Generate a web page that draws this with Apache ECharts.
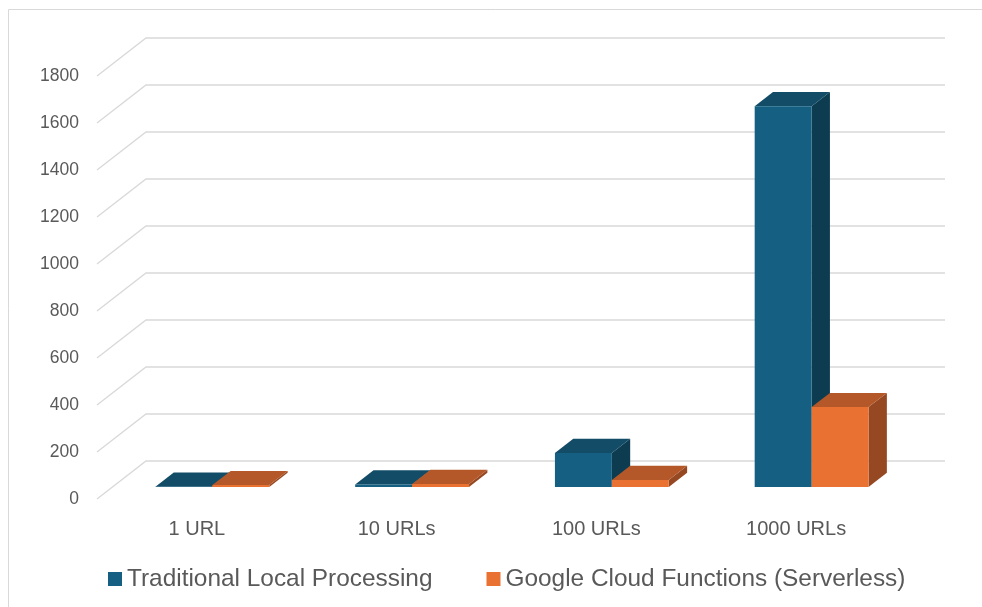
<!DOCTYPE html>
<html>
<head>
<meta charset="utf-8">
<title>Processing time by workload</title>
<script src="https://cdn.jsdelivr.net/npm/echarts@6/dist/echarts.min.js"></script>
<style>
  html, body { margin: 0; padding: 0; background: #ffffff; }
  #chart { width: 982px; height: 607px; }
</style>
</head>
<body>
<div id="chart"></div>
<script>
// ---- data ----
const categories = ['1 URL', '10 URLs', '100 URLs', '1000 URLs'];
const seriesNames = ['Traditional Local Processing', 'Google Cloud Functions (Serverless)'];
const localValues = [1, 11, 145, 1620];
const serverlessValues = [8, 13, 30, 340];
const yTicks = [0, 200, 400, 600, 800, 1000, 1200, 1400, 1600, 1800];

// ---- 3D look ----
const DEPTH_X = 49;      // oblique depth offset of the back wall
const DEPTH_Y = 38;
const Z_FRONT = 0.316;   // bar front plane, as a fraction of full depth
const Z_BACK = 0.69;     // bar back plane
const BAR_FRAC = 0.285;  // bar width as a fraction of the category band

const palette = {
  local:      { front: '#156082', top: '#124C67', side: '#0D3C50' },
  serverless: { front: '#E97132', top: '#B4582A', side: '#964822' }
};

const FONT = '"Liberation Sans", Arial, sans-serif';
const TEXT = '#595959';
const GRID_LINE = '#D9D9D9';

function renderWall(params, api) {
  const cs = params.coordSys;
  const y = api.coord([0, api.value(1)])[1];
  const left = cs.x, right = cs.x + cs.width;
  return {
    type: 'polyline',
    shape: { points: [[left, y], [left + DEPTH_X, y - DEPTH_Y], [right + DEPTH_X, y - DEPTH_Y]] },
    style: { stroke: GRID_LINE, lineWidth: 1.3, fill: null },
    silent: true
  };
}

function makeBarRenderer(side, colors) {
  return function (params, api) {
    const cat = api.value(0);
    const v = api.value(1);
    const base = api.coord([cat, 0]);
    const top = api.coord([cat, v]);
    const band = api.size([1, 0])[0];
    const w = band * BAR_FRAC;
    const x0 = base[0] + (side < 0 ? -w : 0) + DEPTH_X * Z_FRONT;
    const x1 = x0 + w;
    const yb = base[1] - DEPTH_Y * Z_FRONT;
    const yt = top[1] - DEPTH_Y * Z_FRONT;
    const dx = DEPTH_X * (Z_BACK - Z_FRONT);
    const dy = DEPTH_Y * (Z_BACK - Z_FRONT);
    return {
      type: 'group',
      children: [
        {
          type: 'polygon',
          shape: { points: [[x1, yt], [x1 + dx, yt - dy], [x1 + dx, yb - dy], [x1, yb]] },
          style: { fill: colors.side }
        },
        {
          type: 'polygon',
          shape: { points: [[x0, yt], [x1, yt], [x1 + dx, yt - dy], [x0 + dx, yt - dy]] },
          style: { fill: colors.top }
        },
        {
          type: 'rect',
          shape: { x: x0, y: yt, width: w, height: Math.max(yb - yt, 0) },
          style: { fill: colors.front }
        }
      ]
    };
  };
}

const chart = echarts.init(document.getElementById('chart'), null, { renderer: 'canvas' });

chart.setOption({
  animation: false,
  backgroundColor: '#ffffff',
  color: [palette.local.front, palette.serverless.front],
  graphic: [{
    type: 'rect',
    shape: { x: 8.5, y: 9.5, width: 1000, height: 700 },
    style: { fill: null, stroke: '#D9D9D9', lineWidth: 1 },
    silent: true,
    z: -10
  }],
  grid: { left: 97, right: 86, top: 76, bottom: 108, containLabel: false },
  xAxis: {
    type: 'category',
    data: categories,
    axisLine: { show: false },
    axisTick: { show: false },
    axisLabel: { color: TEXT, fontSize: 20, fontFamily: FONT, margin: 20 }
  },
  yAxis: {
    type: 'value',
    min: 0,
    max: yTicks[yTicks.length - 1],
    interval: yTicks[1] - yTicks[0],
    axisLine: { show: false },
    axisTick: { show: false },
    splitLine: { show: false },
    axisLabel: {
      color: TEXT, fontSize: 17.5, fontFamily: FONT, margin: 18,
      formatter: v => String(v)
    }
  },
  legend: {
    data: seriesNames,
    bottom: 11,
    left: 103,
    icon: 'rect',
    itemWidth: 14,
    itemHeight: 14,
    itemGap: 54,
    textStyle: { color: TEXT, fontSize: 24.4, fontFamily: FONT }
  },
  series: [
    {
      type: 'custom',
      name: 'walls',
      renderItem: renderWall,
      data: yTicks.map(t => [0, t]),
      silent: true,
      z: 1
    },
    {
      type: 'custom',
      name: seriesNames[0],
      itemStyle: { color: palette.local.front },
      renderItem: makeBarRenderer(-1, palette.local),
      data: localValues.map((v, i) => [i, v]),
      z: 2
    },
    {
      type: 'custom',
      name: seriesNames[1],
      itemStyle: { color: palette.serverless.front },
      renderItem: makeBarRenderer(1, palette.serverless),
      data: serverlessValues.map((v, i) => [i, v]),
      z: 3
    }
  ]
});
</script>
</body>
</html>
